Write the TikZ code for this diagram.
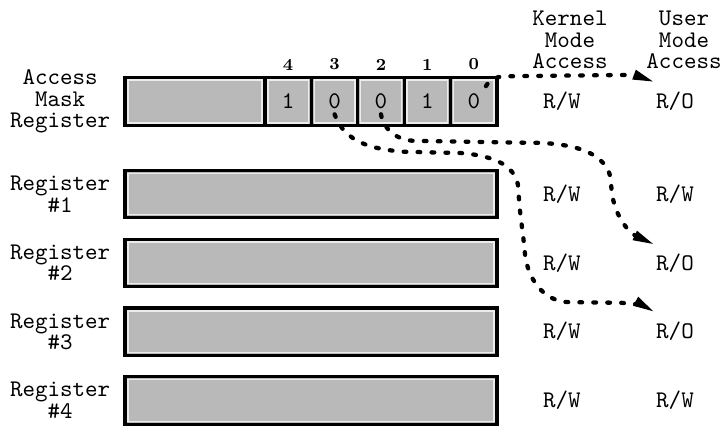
\documentclass[tikz,border=0pt]{standalone}
\usepackage{fontspec}
\usepackage{tikz}
\usetikzlibrary{arrows.meta}
\usetikzlibrary{positioning}

\tikzset{
  regcell/.style={draw=black, line width=1.4pt, fill=gray!55, inner sep=0pt, minimum height=0.76cm,
    path picture={\draw[white!85!gray, line width=0.6pt] ([shift={(1.3pt,1.3pt)}]path picture bounding box.south west) rectangle ([shift={(-1.3pt,-1.3pt)}]path picture bounding box.north east);}},
  txt/.style={inner sep=0pt, font=\fontsize{10.6}{9.6}\selectfont\ttfamily},
  reglabel/.style={txt, align=center},
  header/.style={txt, align=center},
  value/.style={txt},
  bitnum/.style={inner sep=0pt, font=\fontsize{7.5}{8}\selectfont\bfseries},
  maskarrow/.style={line width=1.9pt, dash pattern=on 1.2pt off 5pt, line cap=round, -{Triangle[length=10pt,width=4pt]}}
}

\begin{document}
\begin{tikzpicture}
  \useasboundingbox (0,0) rectangle (11.297,6.641);
  % access mask register
  \node[regcell, minimum width=2.187cm] (amr) at (3.047,5.055) {};
  \foreach \b/\v [count=\i] in {4/1,3/0,2/0,1/1,0/0}
  {
    \node[regcell, minimum width=0.725cm, txt] (bit\b) at ({4.14+(\i-0.5)*0.725},5.055) {\v};
    \node[bitnum, above=0.08cm of bit\b] {\b};
  }
  \node[reglabel, left=0.2cm of amr] (amrlabel) {Access\\Mask\\Register};
  % registers
  \foreach \i in {1,...,4}
  {
    \node[regcell, minimum width=5.813cm, minimum height=0.74cm] (reg\i) at (4.86,{3.609-(\i-1)*1.075}) {};
    \node[reglabel, left=0.2cm of reg\i] (reglabel\i) {Register\\\#\i};
  }
  % access columns
  \node[header] (kmhead) at (8.906,6.016) {Kernel\\Mode\\Access};
  \node[header] (umhead) at (10.688,6.016) {User\\Mode\\Access};
  \foreach \i/\u/\y in {0/O/5.055,1/W/3.609,2/O/2.534,3/O/1.459,4/W/0.384}
  {
    \node[value] (km\i) at (8.781,\y) {R/W};
    \node[value] (um\i) at (10.547,\y) {R/\u};
  }
  % mask bits
  \draw[maskarrow] ([shift={(0.19,0.24)}]bit0.center) to[out=60,in=180] (7.95,5.45) -- (9.8,5.47) to[out=-5,in=160] ([shift={(-0.31,0.3)}]um0.center);
  \draw[maskarrow] ([yshift=-0.2cm]bit2.center) to[out=-80,in=180] (6.5,4.44) -- (8.3,4.41) to[out=0,in=90] (9.55,3.75) to[out=-88,in=155] ([shift={(-0.31,0.28)}]um2.center);
  \draw[maskarrow] ([yshift=-0.2cm]bit3.center) to[out=-70,in=175] (6.3,4.27) -- (7.2,4.25) to[out=-5,in=95] (8.1,3.7) to[out=-88,in=95] (8.2,2.7) to[out=-85,in=180] (8.9,1.92) -- (9.7,1.91) to[out=-5,in=150] ([shift={(-0.31,0.3)}]um3.center);
\end{tikzpicture}
\end{document}
